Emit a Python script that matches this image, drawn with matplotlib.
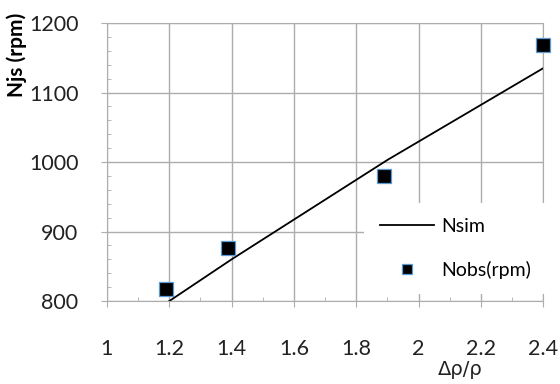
import matplotlib
matplotlib.use('Agg')
import matplotlib.pyplot as plt
from matplotlib.ticker import MultipleLocator

# data
x_obs = [1.19, 1.39, 1.89, 2.40]
n_obs = [817, 877, 980, 1168]
x_sim = [1.2, 1.4, 1.9, 2.4]
n_sim = [800, 860, 1003, 1135]
x_ticks = [1, 1.2, 1.4, 1.6, 1.8, 2, 2.2, 2.4]
x_ticklabels = ['1', '1.2', '1.4', '1.6', '1.8', '2', '2.2', '2.4']

plt.rcParams['font.family'] = ['Lato', 'DejaVu Sans']

fig = plt.figure(figsize=(5.6, 3.84), dpi=100)
ax = fig.add_axes([0.191, 0.216, 0.779, 0.724])

grid_c = '#adadad'
ax.plot(x_sim, n_sim, color='black', lw=1.3, label='Nsim', zorder=3)
ax.plot(x_obs, n_obs, ls='none', marker='s', ms=9.5, mfc='black',
        mec='#5b9bd5', mew=0.9, label='Nobs(rpm)', zorder=4, clip_on=False)

ax.set_xlim(1, 2.4)
ax.set_ylim(800, 1200)
ax.set_xticks(x_ticks)
ax.set_xticklabels(x_ticklabels)
ax.xaxis.set_minor_locator(MultipleLocator(0.1))
ax.yaxis.set_major_locator(MultipleLocator(100))
ax.yaxis.set_minor_locator(MultipleLocator(20))

ax.grid(True, which='major', color=grid_c, lw=1)
ax.set_axisbelow(True)
for s in ax.spines.values():
    s.set_color(grid_c)
ax.tick_params(which='major', length=4.5, color=grid_c, labelsize=15.5, labelcolor='#222222')
ax.tick_params(axis='x', which='major', pad=23)
ax.tick_params(axis='y', which='major', pad=16)
ax.tick_params(which='minor', length=3, color=grid_c, direction='in')

ax.set_ylabel('Njs (rpm)', fontsize=15, fontweight='bold', va='center')
ax.yaxis.set_label_coords(-0.207, 0.885)
ax.set_xlabel('Δρ/ρ', fontsize=14, family=['DejaVu Sans'], color='#222222')
ax.xaxis.set_label_coords(0.81, -0.212)

leg = ax.legend(loc='lower right', bbox_to_anchor=(1.03, -0.01), frameon=True,
                fontsize=14, handlelength=2.8, labelspacing=1.3,
                borderpad=0.8, handletextpad=0.35, markerscale=0.7)
leg.get_frame().set_edgecolor('none')
leg.get_frame().set_facecolor('white')
leg.get_frame().set_alpha(1)

fig.savefig('out.png', dpi=100)
